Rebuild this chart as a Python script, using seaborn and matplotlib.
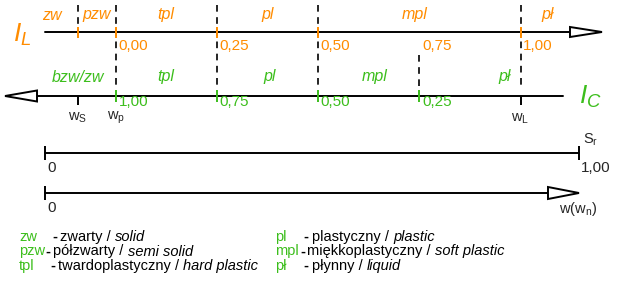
import numpy as np
import pandas as pd
import matplotlib
matplotlib.use("Agg")
import matplotlib.pyplot as plt
from matplotlib.patches import Polygon
import seaborn as sns

# ---------------- data ----------------
IL_ticks = [0.00, 0.25, 0.50, 0.75, 1.00]
IL_tick_labels = ["0,00", "0,25", "0,50", "0,75", "1,00"]
IC_ticks = [1.00, 0.75, 0.50, 0.25]
IC_tick_labels = ["1,00", "0,75", "0,50", "0,25"]
wS_IL = -0.094          # w_S expressed on the I_L scale
IL_zones = ["zw", "pzw", "tpl", "pl", "mpl", "pł"]
IC_zones = ["bzw/zw", "tpl", "pl", "mpl", "pł"]
Sr_labels = ["0", "1,00"]
legend_abbr = ["zw", "pzw", "tpl", "pl", "mpl", "pł"]
legend_pl = ["zwarty", "półzwarty", "twardoplastyczny",
             "plastyczny", "miękkoplastyczny", "płynny"]
legend_en = ["solid", "semi solid", "hard plastic",
             "plastic", "soft plastic", "liquid"]

# ---------------- style ----------------
sns.set_theme(style="white")
plt.rcParams["font.family"] = ["Liberation Sans", "DejaVu Sans"]
plt.rcParams["mathtext.fontset"] = "custom"
plt.rcParams["mathtext.rm"] = "Liberation Sans"
plt.rcParams["mathtext.it"] = "Liberation Sans:italic"
plt.rcParams["mathtext.bf"] = "Liberation Sans:bold"

ORANGE = "#ff8c00"
GREEN = "#3cbe1c"
BLACK = "#000000"
LW = 1.4
DASH = (0, (4, 3.3))

fig = plt.figure(figsize=(6.35, 2.82), dpi=100)
ax = fig.add_axes([0, 0, 1, 1])

# x axis in I_L units, y axis in pixel rows
X0, SCALE = 116.0, 404.5
def X(px):
    return (px - X0) / SCALE

ax.set_xlim(X(0), X(635))
ax.set_ylim(282, 0)
ax.axis("off")

def hline(x1, x2, y):
    sns.lineplot(x=[x1, x2], y=[y, y], color=BLACK, lw=LW, ax=ax,
                 estimator=None, sort=False)

def arrow(xbase, xtip, y, h=5.5):
    ax.add_patch(Polygon([(xbase, y - h), (xbase, y + h), (xtip, y)],
                         closed=True, facecolor="white", edgecolor=BLACK,
                         lw=LW, joinstyle="miter", zorder=3))

# ---------------- I_L axis ----------------
Y_TOP = 32
hline(X(45), X(570), Y_TOP)
arrow(X(570), X(602), Y_TOP, 5)

# dashed guides
dash_pos = [wS_IL] + IL_ticks
dash_top = [5, 5, 5, 5, 55, 5]
dash_bot = [31, 90, 90, 90, 90, 90]
for xv, t, b in zip(dash_pos, dash_top, dash_bot):
    ax.plot([xv, xv], [t, b], color=BLACK, lw=1.2, linestyle=DASH, zorder=1)

top_tick_vals = [wS_IL] + [v for v in IL_ticks if v != 0.75]
ax.vlines(top_tick_vals, 27, 38, color=ORANGE, lw=LW, zorder=2)
for v, lab in zip(IL_ticks, IL_tick_labels):
    ax.text(v + X(118.5) - X(116), 46, lab, color=ORANGE, fontsize=11,
            ha="left", va="center")

IL_zone_px = [52, 97, 166, 268, 415, 548]
for lab, p in zip(IL_zones, IL_zone_px):
    ax.text(X(p), 15, lab, color=ORANGE, fontsize=11.5, style="italic",
            ha="center", va="center")
ax.text(X(22), 35, r"$I_L$", color=ORANGE, fontsize=19, ha="center",
        va="center")

# ---------------- I_C axis ----------------
Y_BOT = 96
hline(X(37), X(563), Y_BOT)
arrow(X(37), X(5), Y_BOT, 5.5)
ic_pos = [1 - v for v in IC_ticks]
ax.vlines(ic_pos, 90, 102, color=GREEN, lw=LW, zorder=2)
for v, lab in zip(ic_pos, IC_tick_labels):
    ax.text(v + X(118.5) - X(116), 102.5, lab, color=GREEN, fontsize=11,
            ha="left", va="center")
ax.vlines([wS_IL, IL_ticks[-1]], 96, 104.5, color=BLACK, lw=LW, zorder=2)
ax.text(wS_IL, 118, r"$\mathrm{w}_\mathrm{S}$", fontsize=10.5,
        ha="center", va="center")
ax.text(IL_ticks[0], 118, r"$\mathrm{w}_\mathrm{p}$", fontsize=10.5,
        ha="center", va="center")
ax.text(IL_ticks[-1], 119, r"$\mathrm{w}_\mathrm{L}$", fontsize=10.5,
        ha="center", va="center")

IC_zone_px = [78, 166, 270, 375, 505]
for lab, p in zip(IC_zones, IC_zone_px):
    ax.text(X(p), 77, lab, color=GREEN, fontsize=11.5, style="italic",
            ha="center", va="center")
ax.text(X(590), 97, r"$I_C$", color=GREEN, fontsize=19, ha="center",
        va="center")

# ---------------- S_r axis ----------------
Y_SR = 153
hline(X(45), X(579), Y_SR)
ax.vlines([X(45), X(579)], Y_SR - 7, Y_SR + 7, color=BLACK, lw=LW)
ax.text(X(47), 168, Sr_labels[0], fontsize=11, ha="left", va="center")
ax.text(X(581), 168, Sr_labels[1], fontsize=11, ha="left", va="center")
ax.text(X(583), 140, r"$\mathrm{S}_\mathrm{r}$", fontsize=10.5,
        ha="left", va="center")

# ---------------- w axis ----------------
Y_W = 193
hline(X(45), X(548), Y_W)
ax.vlines([X(45)], Y_W - 7, Y_W + 7, color=BLACK, lw=LW)
arrow(X(548), X(579), Y_W, 6)
ax.text(X(47), 208, "0", fontsize=11, ha="left", va="center")
ax.text(X(578), 209, r"$\mathrm{w(w}_\mathrm{n}\mathrm{)}$", fontsize=10.5,
        ha="center", va="center")

# ---------------- legend ----------------
fig.canvas.draw()
renderer = fig.canvas.get_renderer()
inv = ax.transData.inverted()

leg_rows = [237, 251.5, 266] * 2
abbr_x = [19, 19, 19, 275, 275, 275]
dash_x = [52, 45, 50, 303, 300, 303]
txt_x = [60, 53, 58, 312, 307, 312]
LFS = 10.5
for ab, pl, en, y, ax_, dx, tx in zip(legend_abbr, legend_pl, legend_en,
                                      leg_rows, abbr_x, dash_x, txt_x):
    ax.text(X(ax_), y, ab, color=GREEN, fontsize=LFS, ha="left", va="center")
    ax.text(X(dx), y, "-", color=BLACK, fontsize=LFS, fontweight="bold",
            ha="left", va="center")
    t = ax.text(X(tx), y, pl + " / ", color=BLACK, fontsize=LFS,
                ha="left", va="center")
    bb = t.get_window_extent(renderer)
    x2 = inv.transform((bb.x1, 0))[0]
    ax.text(x2, y, en, color=BLACK, fontsize=LFS, style="italic",
            ha="left", va="center")

fig.savefig("out.png", dpi=100)
